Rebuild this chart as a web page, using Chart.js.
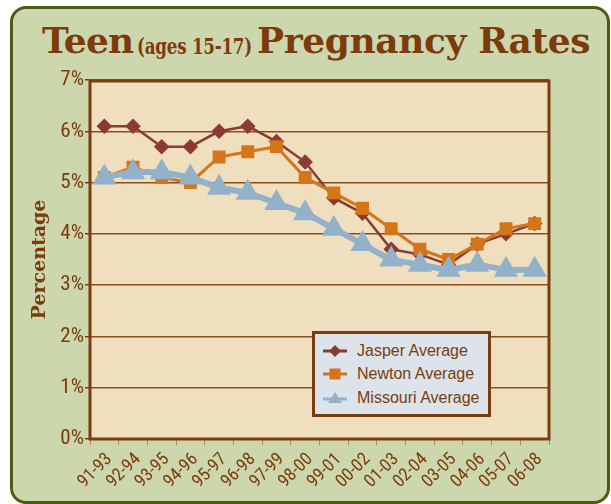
<!DOCTYPE html>
<html>
<head>
<meta charset="utf-8">
<script src="https://cdn.jsdelivr.net/npm/chart.js@4.4.1/dist/chart.umd.min.js"></script>
<style>
  html, body { margin: 0; padding: 0; background: #fff; }
  body { width: 611px; height: 504px; position: relative; overflow: hidden; }
  .frame {
    position: absolute; left: 10px; top: 6px; width: 600px; height: 498px;
    box-sizing: border-box; border: 3px solid #4b5c14; border-radius: 16px;
    background: #cdd7ae;
  }
  h1 {
    position: absolute; left: 0; top: 19px; width: 611px; height: 42px; margin: 0; line-height: 42px;
    font-family: "DejaVu Serif", serif; font-weight: bold;
    font-size: 36px; color: #7d3a0b; letter-spacing: -0.8px; white-space: nowrap;
  }
  h1 span { position: absolute; top: 0; }
  h1 .t1 { left: 42px; }
  h1 .t2 { left: 137px; top: 6px; font-size: 22px; letter-spacing: -0.3px; transform: scaleX(0.76); transform-origin: 0 0; }
  h1 .t3 { left: 257px; letter-spacing: -0.4px; }
  canvas { position: absolute; left: 0; top: 0; }
  .legend {
    position: absolute; left: 312px; top: 331px; width: 179px; height: 86px;
    box-sizing: border-box; border: 3px solid #7a3c0c; background: #dce3ea;
    padding: 5px 0 0 8px; font-family: "Liberation Sans", Arial, sans-serif;
    font-size: 16px; color: #7a3c0c;
  }
  .legend div { height: 23.5px; display: flex; align-items: center; }
  .legend svg { margin-right: 10px; }
</style>
</head>
<body>
<div class="frame"></div>
<h1><span class="t1">Teen</span> <span class="t2">(ages 15-17)</span> <span class="t3">Pregnancy Rates</span></h1>
<canvas id="chart" width="611" height="504"></canvas>
<div class="legend">
  <div><svg width="24" height="14"><line x1="0" y1="7" x2="24" y2="7" stroke="#8c3b34" stroke-width="3"/><polygon points="12,1 18,7 12,13 6,7" fill="#8c3b34"/></svg>Jasper Average</div>
  <div><svg width="24" height="14"><line x1="0" y1="7" x2="24" y2="7" stroke="#d57519" stroke-width="3"/><rect x="6.5" y="1.5" width="11" height="11" fill="#d57519"/></svg>Newton Average</div>
  <div><svg width="24" height="14"><line x1="0" y1="8" x2="24" y2="8" stroke="#93b2ca" stroke-width="3"/><polygon points="12,1 19,12 5,12" fill="#93b2ca"/></svg>Missouri Average</div>
</div>
<script>
const categories = ["91-93", "92-94", "93-95", "94-96", "95-97", "96-98", "97-99", "98-00",
  "99-01", "00-02", "01-03", "02-04", "03-05", "04-06", "05-07", "06-08"]
const jasper = [6.1, 6.1, 5.7, 5.7, 6.0, 6.1, 5.8, 5.4, 4.7, 4.4, 3.7, 3.6, 3.4, 3.8, 4.0, 4.2]
const newton = [5.1, 5.3, 5.1, 5.0, 5.5, 5.6, 5.7, 5.1, 4.8, 4.5, 4.1, 3.7, 3.5, 3.8, 4.1, 4.2]
const missouri = [5.1, 5.2, 5.2, 5.1, 4.9, 4.8, 4.6, 4.4, 4.1, 3.8, 3.5, 3.4, 3.3, 3.4, 3.3, 3.3]
const yMin = 0
const yMax = 7

const brown = "#7a3c0c"
const tickFont = "'Liberation Sans Narrow', 'Roboto Condensed', 'Liberation Sans', Arial, sans-serif"

// plot background and frame round the chart area
const plotBox = {
  id: "plotBox",
  beforeDraw(chart) {
    const { ctx, chartArea: a } = chart
    ctx.save()
    ctx.fillStyle = "#efdfbf"
    ctx.fillRect(a.left, a.top, a.right - a.left, a.bottom - a.top)
    ctx.restore()
  },
  beforeDatasetsDraw(chart) {
    const { ctx, chartArea: a } = chart
    ctx.save()
    ctx.strokeStyle = brown
    ctx.lineWidth = 3
    ctx.strokeRect(a.left, a.top + 1, a.right - a.left, a.bottom - a.top - 1)
    ctx.restore()
  },
}

new Chart(document.getElementById("chart"), {
  type: "line",
  data: {
    labels: categories,
    datasets: [
      {
        label: "Jasper Average",
        data: jasper,
        borderColor: "#8c3b34",
        backgroundColor: "#8c3b34",
        borderWidth: 2.5,
        pointStyle: "rectRot",
        pointRadius: 6,
        tension: 0,
        order: 2,
      },
      {
        label: "Newton Average",
        data: newton,
        borderColor: "#d57519",
        backgroundColor: "#d57519",
        borderWidth: 3,
        pointStyle: "rect",
        pointRadius: 7,
        tension: 0,
        order: 1,
      },
      {
        label: "Missouri Average",
        data: missouri,
        borderColor: "#93b2ca",
        backgroundColor: "#93b2ca",
        borderWidth: 6,
        pointStyle: "triangle",
        pointRadius: 8,
        tension: 0.15,
        order: 0,
      },
    ],
  },
  options: {
    responsive: false,
    animation: false,
    layout: { padding: { top: 80, right: 62, left: 0, bottom: 0 } },
    plugins: {
      legend: { display: false },
      tooltip: { enabled: false },
    },
    scales: {
      x: {
        offset: true,
        afterFit: (s) => { s.height = 65 },
        grid: { drawOnChartArea: false, drawTicks: true, tickLength: 6, tickColor: "#b48a5c", offset: true },
        border: { display: false },
        ticks: {
          color: brown,
          font: { family: tickFont, size: 18 },
          minRotation: 45,
          maxRotation: 45,
          padding: 4,
          labelOffset: 5,
          autoSkip: false,
        },
      },
      y: {
        min: yMin,
        max: yMax,
        afterFit: (s) => { s.width = 90 },
        grid: {
          color: (c) => (c.tick && c.tick.value % 1 === 0 ? "#8a4e1c" : "transparent"),
          lineWidth: 1.5,
          tickColor: brown,
          tickLength: 5,
        },
        border: { display: false },
        ticks: {
          stepSize: 0.5,
          color: brown,
          font: { family: tickFont, size: 21 },
          padding: 1,
          callback: (v) => (v % 1 === 0 ? v + "%" : ""),
        },
        title: {
          display: true,
          text: "Percentage",
          color: brown,
          font: { family: "'DejaVu Serif', serif", weight: "bold", size: 19 },
          padding: { top: 29, bottom: 0 },
        },
      },
    },
  },
  plugins: [plotBox],
})
</script>
</body>
</html>
